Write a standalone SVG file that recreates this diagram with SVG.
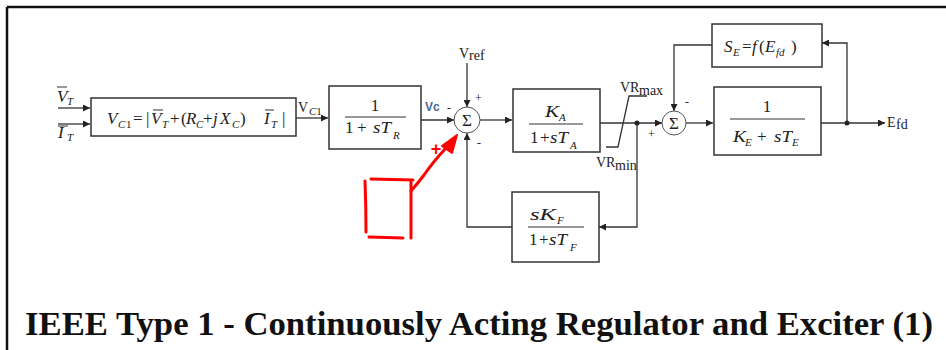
<svg xmlns="http://www.w3.org/2000/svg" width="946" height="350" viewBox="0 0 946 350">
<style>
.box{fill:#fff;stroke:#333;stroke-width:1.5}
.ln{fill:none;stroke:#333;stroke-width:1.3}
.arr{fill:none;stroke:#333;stroke-width:1.3;marker-end:url(#ah)}
.sum{fill:#fff;stroke:#555;stroke-width:1}
.fl{stroke:#333;stroke-width:1.2}
.m{font-family:"Liberation Serif","Times New Roman",serif;font-style:italic;font-size:17px;fill:#222}
.r{font-family:"Liberation Serif","Times New Roman",serif;font-style:normal;font-size:17px;fill:#222}
.s{font-size:11px}
.lb{font-family:"Liberation Serif","Times New Roman",serif;font-size:14px;fill:#222}
.sg{font-family:"Liberation Serif","Times New Roman",serif;font-size:12px;fill:#222}
.red{fill:none;stroke:#ff0000;stroke-width:3;stroke-linecap:round;stroke-linejoin:round}
</style>
<defs>
<marker id="ah" viewBox="0 0 10 10" refX="10" refY="5" markerWidth="9" markerHeight="7" markerUnits="userSpaceOnUse" orient="auto">
<path d="M0,0 L10,5 L0,10 z" fill="#222"/>
</marker>
</defs>
<rect width="946" height="350" fill="#fff"/>
<g id="frame">
<path d="M7,7 H946 M7,7 V350" fill="none" stroke="#111" stroke-width="2.5"/>
</g>

<g id="connectors">
<path class="arr" d="M58,108 H90"/>
<path class="arr" d="M58,124 H90"/>
<path class="arr" d="M296,118 H328"/>
<path class="arr" d="M421,120 H454"/>
<path class="arr" d="M467,63 V107"/>
<path class="arr" d="M480,120 H512"/>
<path class="arr" d="M600,123 H662"/>
<path class="arr" d="M686,123 H713"/>
<path class="arr" d="M821,123 H885"/>
<path class="arr" d="M847,123 V43 H822"/>
<path class="arr" d="M712,45 H674 V111"/>
<path class="arr" d="M637,123 V227 H599"/>
<path class="arr" d="M512,227 H467 V133"/>
<path class="ln" d="M606,147 H618 L629,96 H647" stroke-width="1"/>
<circle cx="637" cy="123" r="2.5" fill="#222"/>
<circle cx="847" cy="123" r="2.5" fill="#222"/>
</g>

<g id="inputs">
<path class="fl" d="M57,87 H67 M58,126 H68"/>
<text class="m" x="57" y="102" font-size="16">V</text>
<text class="m s" x="67" y="105">T</text>
<text class="m" x="58" y="138" font-size="16">I</text>
<text class="m s" x="67" y="141">T</text>
</g>

<g id="box1">
<rect class="box" x="91" y="98" width="205" height="38"/>
<path class="fl" d="M153,110 H163 M265,110 H274"/>
<text class="m"><tspan x="107" y="124">V</tspan><tspan class="s" x="118" y="128">C</tspan><tspan class="s" style="font-style:normal" x="126" y="128">1</tspan><tspan class="r" x="133" y="124">=</tspan><tspan class="r" x="146" y="124">|</tspan><tspan x="151" y="124">V</tspan><tspan class="s" x="162" y="128">T</tspan><tspan class="r" x="170" y="124">+</tspan><tspan class="r" x="181" y="124">(</tspan><tspan x="186" y="124">R</tspan><tspan class="s" x="196" y="128">C</tspan><tspan class="r" x="203" y="124">+</tspan><tspan x="213" y="124">j</tspan><tspan x="220" y="124">X</tspan><tspan class="s" x="232" y="128">C</tspan><tspan class="r" x="240" y="124">)</tspan><tspan x="264" y="124">I</tspan><tspan class="s" x="271" y="128">T</tspan><tspan class="r" x="282" y="124">|</tspan></text>
<text class="lb" x="298" y="112" font-size="15">V</text>
<text class="m s" x="309" y="115" font-size="12">C<tspan style="font-style:normal">1</tspan></text>
</g>

<g id="box2">
<rect class="box" x="329" y="86" width="92" height="63"/>
<text class="r" x="375" y="111" text-anchor="middle" font-size="18">1</text>
<path class="fl" d="M345,117 H406"/>
<text class="r" x="345" y="133" font-size="18">1</text>
<text class="r" x="357" y="133" font-size="18">+</text>
<text class="m" x="373" y="133" font-size="18" textLength="18" lengthAdjust="spacingAndGlyphs">sT</text>
<text class="m s" x="393" y="139" font-size="12">R</text>
<text x="425" y="111" font-family="Liberation Sans, Arial, sans-serif" font-size="12" font-weight="bold" fill="#4a6794">Vc</text>
<text class="sg" x="447" y="112">-</text>
</g>

<g id="sum1">
<circle class="sum" cx="467" cy="120" r="13"/>
<text class="r" x="467" y="126" text-anchor="middle" font-size="16">Σ</text>
<text class="lb" x="459" y="58" font-size="13">V</text>
<text class="lb s" x="469" y="60">ref</text>
<text class="sg" x="475" y="102">+</text>
<text class="sg" x="477" y="147">-</text>
</g>

<g id="box3">
<rect class="box" x="513" y="89" width="87" height="63"/>
<text class="m" x="545" y="117" font-size="18" textLength="14" lengthAdjust="spacingAndGlyphs">K</text>
<text class="m s" x="559" y="121" font-size="12">A</text>
<path class="fl" d="M529,124 H583"/>
<text class="r" x="530" y="143" font-size="18">1</text>
<text class="r" x="540" y="143" font-size="18">+</text>
<text class="m" x="550" y="143" font-size="18" textLength="18" lengthAdjust="spacingAndGlyphs">sT</text>
<text class="m s" x="570" y="149" font-size="12">A</text>
<text class="lb" x="620" y="92" font-size="12">VR</text>
<text class="lb s" x="639" y="95">max</text>
<text class="lb" x="596" y="167" font-size="12">VR</text>
<text class="lb s" x="615" y="170">min</text>
</g>

<g id="sum2">
<circle class="sum" cx="674" cy="123" r="12"/>
<text class="r" x="674" y="129" text-anchor="middle" font-size="16">Σ</text>
<text class="sg" x="648" y="138">+</text>
<text class="sg" x="685" y="106">-</text>
</g>

<g id="boxF">
<rect class="box" x="512" y="192" width="87" height="70"/>
<text class="m" x="530" y="220" font-size="18" textLength="26" lengthAdjust="spacingAndGlyphs">sK</text>
<text class="m s" x="557" y="224" font-size="12">F</text>
<path class="fl" d="M528,227 H584"/>
<text class="r" x="529" y="245" font-size="18">1</text>
<text class="r" x="539" y="245" font-size="18">+</text>
<text class="m" x="549" y="245" font-size="18" textLength="18" lengthAdjust="spacingAndGlyphs">sT</text>
<text class="m s" x="570" y="251" font-size="12">F</text>
</g>

<g id="boxSE">
<rect class="box" x="712" y="24" width="110" height="43"/>
<text class="m" x="724" y="52" font-size="16">S</text>
<text class="m s" x="733" y="56">E</text>
<text class="r" x="742" y="52" font-size="16">=</text>
<text class="m" x="752" y="52" font-size="16">f</text>
<text class="r" x="759" y="52" font-size="16">(</text>
<text class="m" x="765" y="52" font-size="16">E</text>
<text class="m s" x="776" y="56">fd</text>
<text class="r" x="791" y="52" font-size="16">)</text>
</g>

<g id="boxE">
<rect class="box" x="714" y="87" width="107" height="68"/>
<text class="r" x="767" y="112" text-anchor="middle" font-size="18">1</text>
<path class="fl" d="M730,119 H805"/>
<text class="m" x="733" y="142" font-size="18" textLength="13" lengthAdjust="spacingAndGlyphs">K</text>
<text class="m s" x="745" y="146" font-size="12">E</text>
<text class="r" x="757" y="142" font-size="18">+</text>
<text class="m" x="774" y="142" font-size="18" textLength="18" lengthAdjust="spacingAndGlyphs">sT</text>
<text class="m s" x="792" y="146" font-size="12">E</text>
<text class="lb" x="887" y="127" font-size="13">E</text>
<text class="lb s" x="896" y="129" font-size="9">fd</text>
</g>

<g id="annotation">
<path class="red" d="M365,181 Q366,205 366,232"/>
<path class="red" d="M371,179 L413,180"/>
<path class="red" d="M411,182 L411,238"/>
<path class="red" d="M369,237 L403,238"/>
<path class="red" d="M411,191 Q418,183 424,175 Q433,162 446,148"/>
<path d="M457,135 L442,146 L452,153 z" fill="#ff0000" stroke="#ff0000" stroke-width="2" stroke-linejoin="round"/>
<text x="436" y="155" text-anchor="middle" font-family="Liberation Sans, Arial, sans-serif" font-weight="bold" font-size="18" fill="#ff0000">+</text>
</g>

<g id="title">
<text x="25" y="335" font-family="Liberation Serif, Times New Roman, serif" font-weight="bold" font-size="34" textLength="908" lengthAdjust="spacingAndGlyphs" fill="#111">IEEE Type 1 - Continuously Acting Regulator and Exciter (1)</text>
</g>
</svg>
